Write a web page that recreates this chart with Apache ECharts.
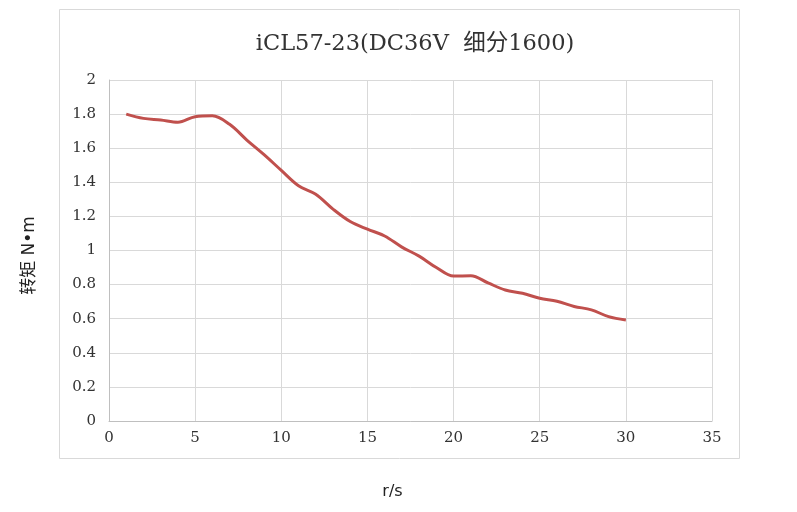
<!DOCTYPE html>
<html>
<head>
<meta charset="utf-8">
<script src="https://cdn.jsdelivr.net/npm/echarts@6/dist/echarts.min.js"></script>
<style>html,body{margin:0;padding:0;background:#fff;}#c{width:797px;height:512px;}</style>
</head>
<body>
<div id="c"></div>
<script>
var titleText = 'iCL57-23(DC36V  细分1600)';
var xName = 'r/s';
var yName = '转矩 N•m';
var speeds = [1,2,3,4,5,6,7,8,9,10,11,12,13,14,15,16,17,18,19,20,21,22,23,24,25,26,27,28,29,30];
var torque = [1.80,1.775,1.765,1.752,1.785,1.79,1.74,1.648,1.562,1.47,1.38,1.33,1.243,1.17,1.125,1.085,1.02,0.967,0.90,0.85,0.852,0.81,0.768,0.749,0.72,0.702,0.672,0.652,0.612,0.592];
var xTicks = {min:0, max:35, interval:5};
var yTicks = {min:0, max:2, interval:0.2};

var pts = speeds.map(function(s,i){return [s, torque[i]];});
var chart = echarts.init(document.getElementById('c'));
var serif = '"DejaVu Serif", "Noto Sans CJK SC", serif';
chart.setOption({
  backgroundColor:'#fff',
  animation:false,
  title:{text:titleText, left:410, top:28, textAlign:'center',
    textStyle:{fontFamily:serif, fontSize:22.5, fontWeight:'normal', color:'#333'}},
  graphic:[{type:'rect', shape:{x:59.5,y:9.5,width:680,height:449}, style:{fill:'none', stroke:'#d9d9d9', lineWidth:1}, silent:true}],
  grid:{left:109, right:85, top:80, bottom:91},
  xAxis:{type:'value', min:xTicks.min, max:xTicks.max, interval:xTicks.interval,
    name:xName, nameLocation:'middle', nameGap:63,
    nameTextStyle:{fontFamily:'"DejaVu Sans", sans-serif', fontSize:16, color:'#222', padding:[0,36,0,0]},
    axisLine:{lineStyle:{color:'#bfbfbf'}}, axisTick:{show:false},
    axisLabel:{margin:10, fontFamily:serif, fontSize:15, color:'#333'},
    splitLine:{lineStyle:{color:'#d9d9d9'}}},
  yAxis:{type:'value', min:yTicks.min, max:yTicks.max, interval:yTicks.interval,
    name:yName, nameLocation:'middle', nameGap:71, nameRotate:90,
    nameTextStyle:{fontFamily:'"DejaVu Sans", "Noto Sans CJK SC", sans-serif', fontSize:17, color:'#222', padding:[0,10,0,0]},
    axisLine:{show:true, lineStyle:{color:'#bfbfbf'}}, axisTick:{show:false},
    axisLabel:{margin:13, fontFamily:serif, fontSize:15, color:'#333'},
    splitLine:{lineStyle:{color:'#d9d9d9'}}},
  series:[{type:'line', data:pts, smooth:0.35, showSymbol:false,
    lineStyle:{color:'#c0504d', width:3}, itemStyle:{color:'#c0504d'}}]
});
</script>
</body>
</html>
